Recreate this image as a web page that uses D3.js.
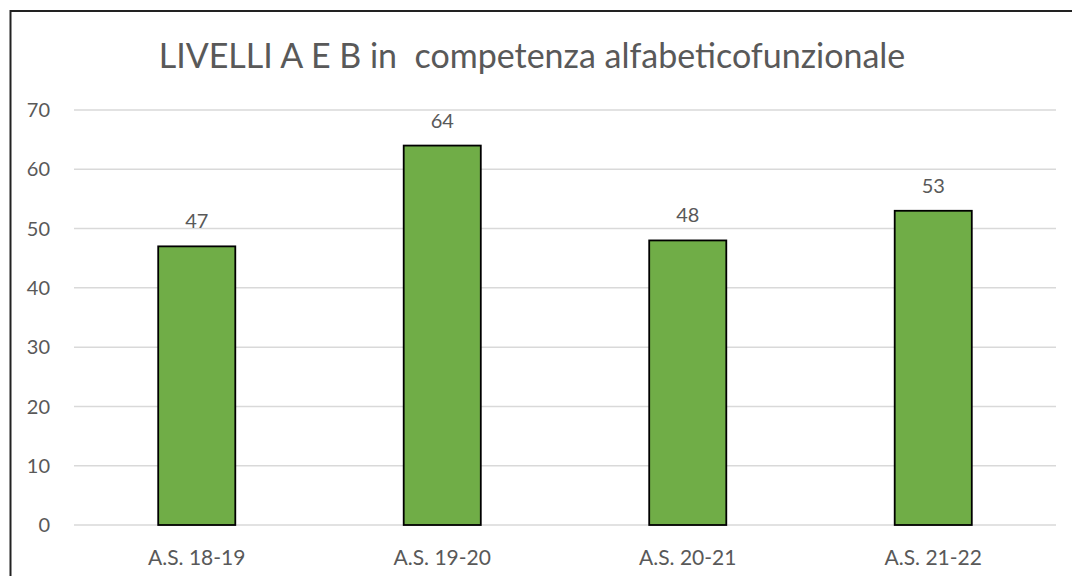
<html>
<head>
<meta charset="utf-8">
<script src="https://d3js.org/d3.v7.min.js"></script>
<style>
  body { margin: 0; background: #fff; }
  text { font-family: Lato, "Open Sans", sans-serif; fill: #595959; }
</style>
</head>
<body>
<svg width="1072" height="576"></svg>
<script>
// chart values
const categories = ["A.S. 18-19", "A.S. 19-20", "A.S. 20-21", "A.S. 21-22"];
const values = [47, 64, 48, 53];
const yTicks = [0, 10, 20, 30, 40, 50, 60, 70];
const title = "LIVELLI A E B in  competenza alfabeticofunzionale";

const svg = d3.select("svg");

// outer chart border (runs off the right and bottom of the picture)
svg.append("rect")
  .attr("x", 10.5).attr("y", 11)
  .attr("width", 1100).attr("height", 600)
  .attr("fill", "none")
  .attr("stroke", "#222")
  .attr("stroke-width", 2);

var plotLeft = 74, plotRight = 1056, plotTop = 110, plotBottom = 525;

var x = d3.scaleBand().domain(categories).range([plotLeft, plotRight]).paddingInner(0.686).paddingOuter(0.343);
var y = d3.scaleLinear().domain([0, 70]).range([plotBottom, plotTop]);

// gridlines
svg.append("g")
  .selectAll("line")
  .data(yTicks)
  .enter()
  .append("line")
  .attr("x1", plotLeft).attr("x2", plotRight)
  .attr("y1", d => y(d)).attr("y2", d => y(d))
  .attr("stroke", "#d9d9d9")
  .attr("stroke-width", 1.5);

// y tick labels
svg.append("g")
  .selectAll("text")
  .data(yTicks)
  .enter()
  .append("text")
  .attr("x", 50)
  .attr("y", d => y(d))
  .attr("dy", "0.36em")
  .attr("text-anchor", "end")
  .style("font-size", "20px")
  .text(d => d);

// bars
svg.append("g")
  .selectAll("rect")
  .data(values)
  .enter()
  .append("rect")
  .attr("x", (d, i) => x(categories[i]))
  .attr("y", d => y(d))
  .attr("width", x.bandwidth())
  .attr("height", d => y(0) - y(d))
  .attr("fill", "#70ad47")
  .attr("stroke", "#000")
  .attr("stroke-width", 1.8);

// value labels
svg.append("g")
  .selectAll("text")
  .data(values)
  .enter()
  .append("text")
  .attr("x", (d, i) => x(categories[i]) + x.bandwidth() / 2)
  .attr("y", d => y(d) - 18)
  .attr("text-anchor", "middle")
  .style("font-size", "20px")
  .text(d => d);

// category labels
svg.append("g")
  .selectAll("text")
  .data(categories)
  .enter()
  .append("text")
  .attr("x", d => x(d) + x.bandwidth() / 2)
  .attr("y", 565)
  .attr("text-anchor", "middle")
  .style("font-size", "21px")
  .text(d => d);

// title
svg.append("text")
  .attr("x", 532)
  .attr("y", 68)
  .attr("text-anchor", "middle")
  .style("font-size", "34px")
  .attr("xml:space", "preserve")
  .text(title);
</script>
</body>
</html>
